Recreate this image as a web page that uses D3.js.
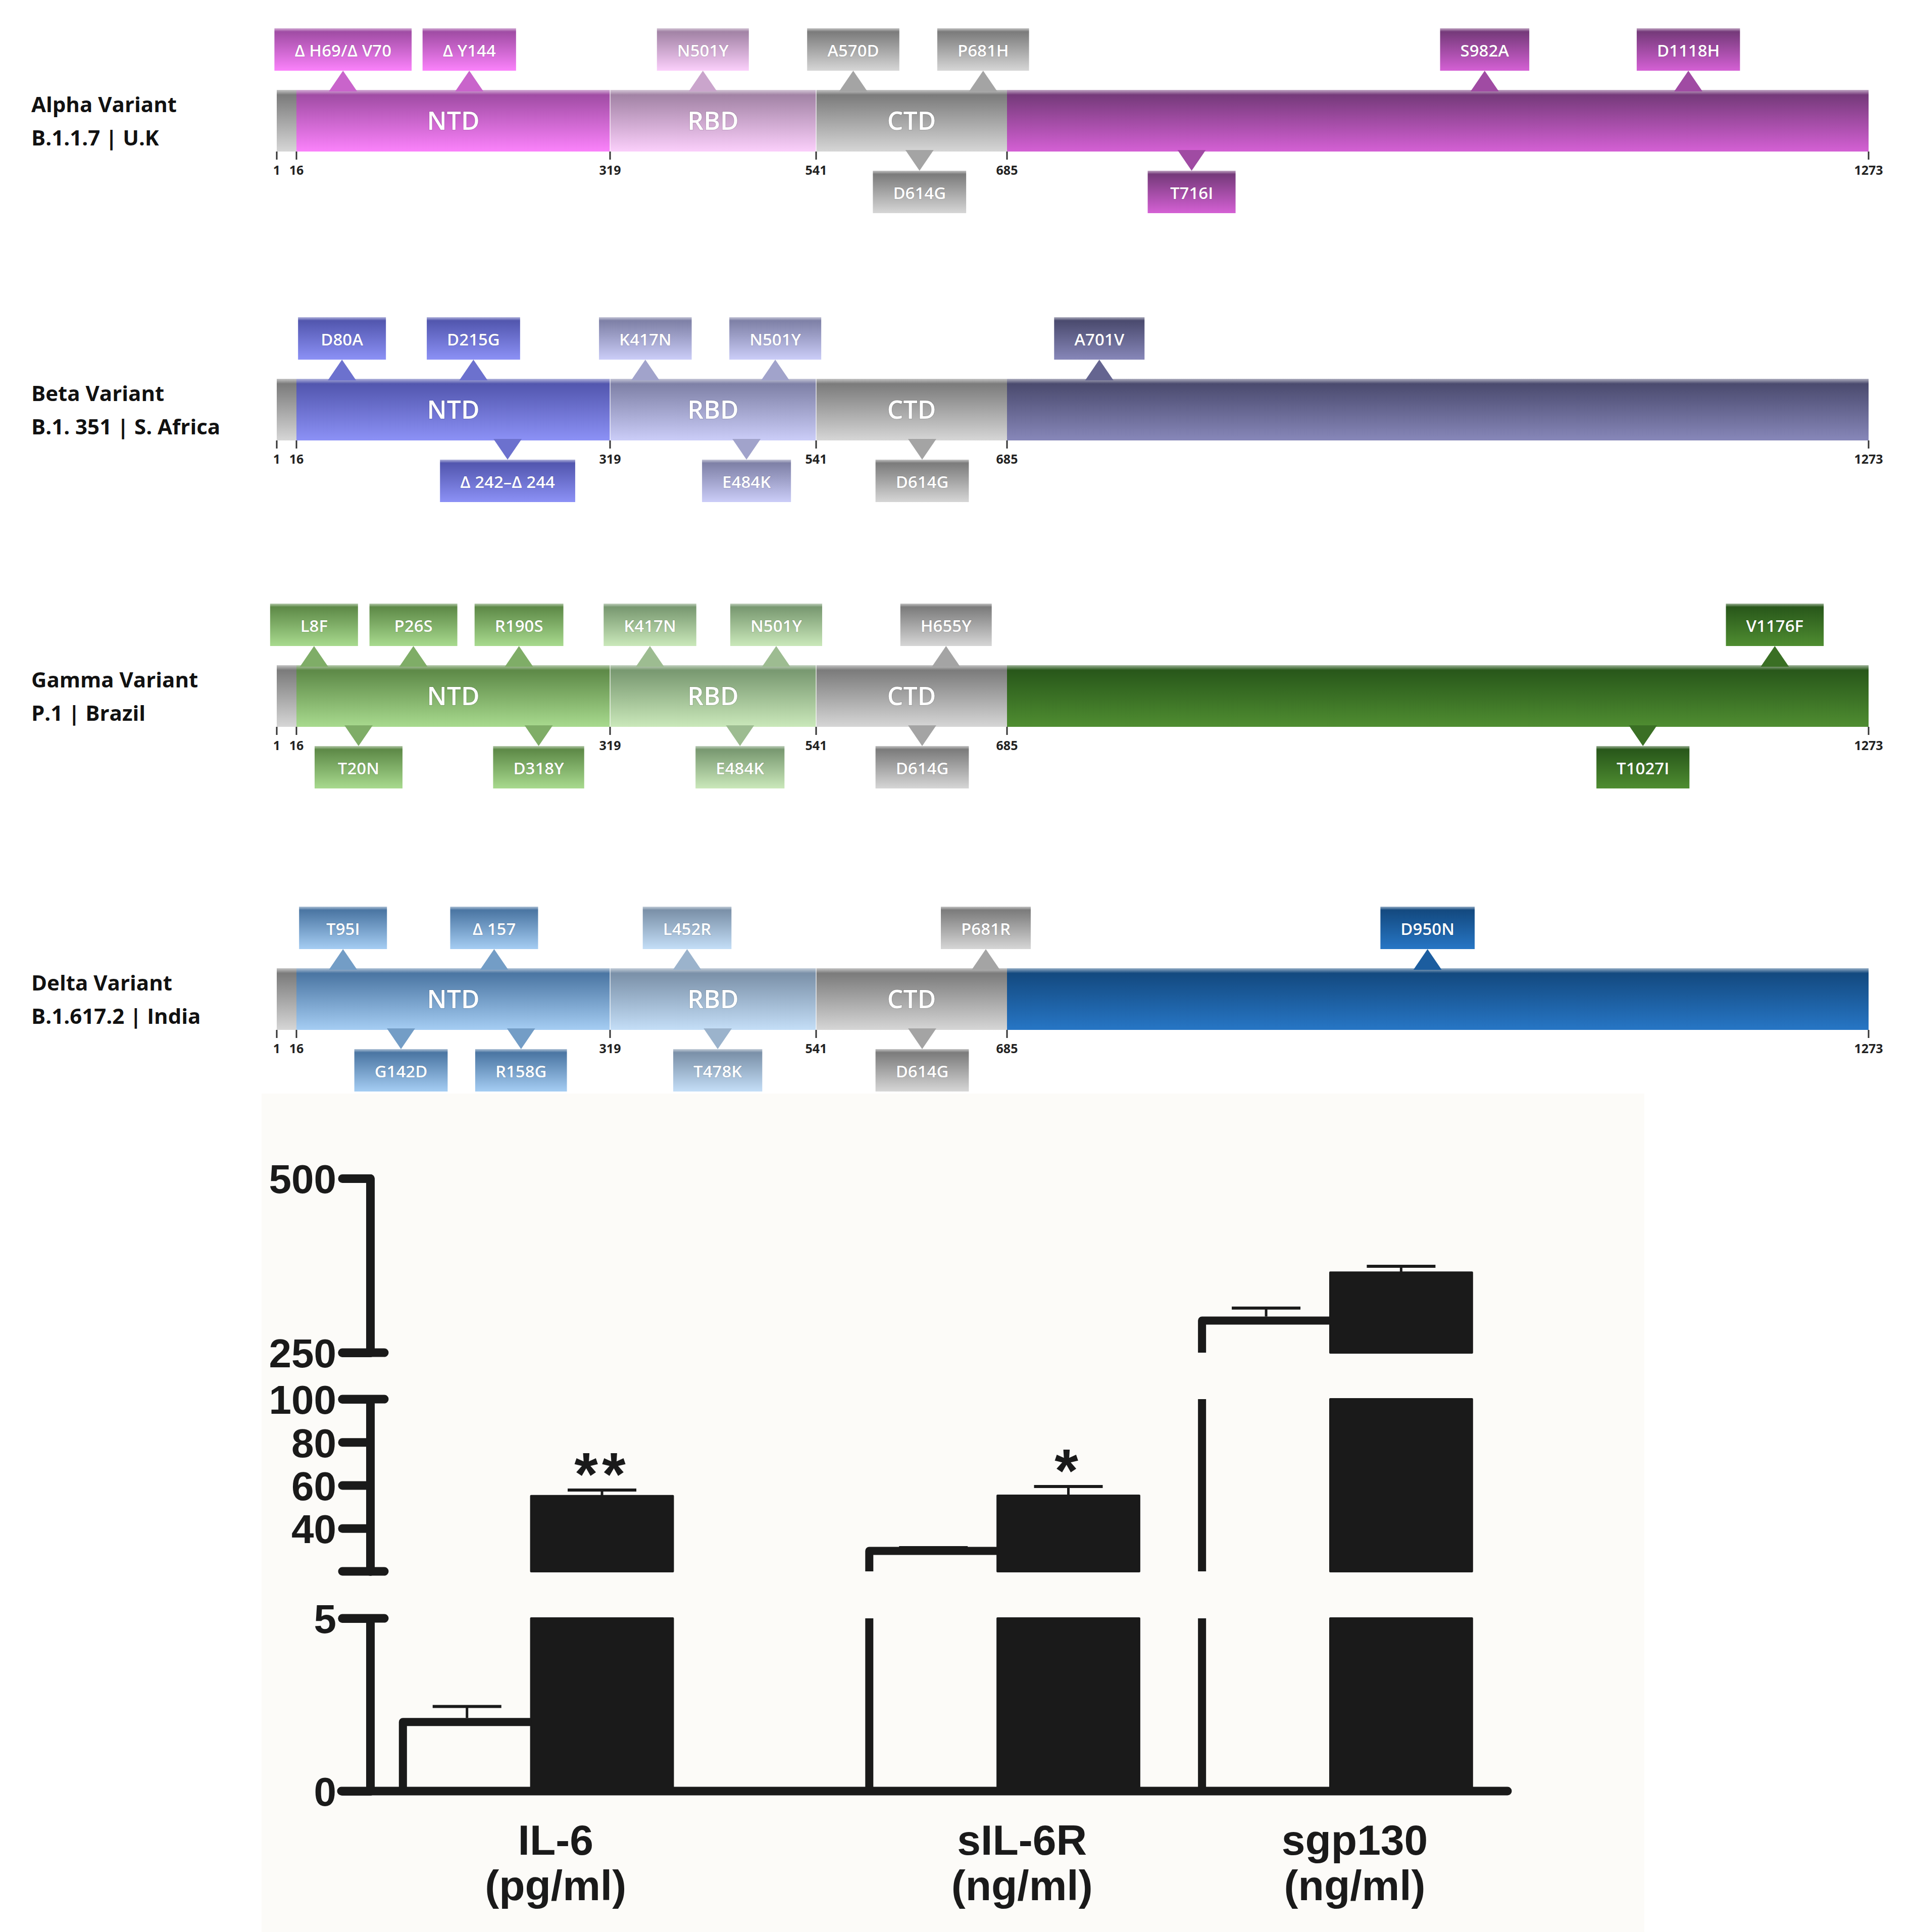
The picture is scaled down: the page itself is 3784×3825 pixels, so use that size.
<!DOCTYPE html>
<html><head><meta charset="utf-8">
<script src="https://cdn.jsdelivr.net/npm/d3@7"></script>
<style>html,body{margin:0;padding:0;background:#fff;} svg{display:block;}</style>
</head><body>
<svg id="chart" width="3784" height="3825"></svg>
<script>
// ================= DATA : spike protein variants =================
const variants = ["Alpha Variant", "Beta Variant", "Gamma Variant", "Delta Variant"];
const lineages = ["B.1.1.7 | U.K", "B.1. 351 | S. Africa", "P.1 | Brazil", "B.1.617.2 | India"];
const domainBounds = [1, 16, 319, 541, 685, 1273];
const domainNames = ["", "NTD", "RBD", "CTD", ""];
const boundLabels = ["1", "16", "319", "541", "685", "1273"];
// "at" = position along the schematic spike axis, as drawn
const alphaMut = [
  {label: "Δ H69/Δ V70", at: 61, side: "up"},
  {label: "Δ Y144", at: 183, side: "up"},
  {label: "N501Y", at: 419, side: "up"},
  {label: "A570D", at: 569, side: "up"},
  {label: "P681H", at: 667, side: "up"},
  {label: "S982A", at: 1011, side: "up"},
  {label: "D1118H", at: 1150, side: "up"},
  {label: "D614G", at: 619, side: "down"},
  {label: "T716I", at: 811, side: "down"}
];
const betaMut = [
  {label: "D80A", at: 60, side: "up"},
  {label: "D215G", at: 187, side: "up"},
  {label: "K417N", at: 357, side: "up"},
  {label: "N501Y", at: 497, side: "up"},
  {label: "A701V", at: 748, side: "up"},
  {label: "Δ 242–Δ 244", at: 220, side: "down"},
  {label: "E484K", at: 466, side: "down"},
  {label: "D614G", at: 621, side: "down"}
];
const gammaMut = [
  {label: "L8F", at: 33, side: "up"},
  {label: "P26S", at: 129, side: "up"},
  {label: "R190S", at: 231, side: "up"},
  {label: "K417N", at: 362, side: "up"},
  {label: "N501Y", at: 498, side: "up"},
  {label: "H655Y", at: 639, side: "up"},
  {label: "V1176F", at: 1209, side: "up"},
  {label: "T20N", at: 76, side: "down"},
  {label: "D318Y", at: 250, side: "down"},
  {label: "E484K", at: 459, side: "down"},
  {label: "D614G", at: 621, side: "down"},
  {label: "T1027I", at: 1119, side: "down"}
];
const deltaMut = [
  {label: "T95I", at: 61, side: "up"},
  {label: "Δ 157", at: 207, side: "up"},
  {label: "L452R", at: 402, side: "up"},
  {label: "P681R", at: 669, side: "up"},
  {label: "D950N", at: 972, side: "up"},
  {label: "G142D", at: 117, side: "down"},
  {label: "R158G", at: 233, side: "down"},
  {label: "T478K", at: 435, side: "down"},
  {label: "D614G", at: 621, side: "down"}
];
const mutations = [alphaMut, betaMut, gammaMut, deltaMut];

// ================= DATA : cytokine bar chart =================
const cytokines = ["IL-6", "sIL-6R", "sgp130"];
const cytokineUnits = ["(pg/ml)", "(ng/ml)", "(ng/ml)"];
const controlMean = [2.0, 29.5, 296];
const controlSEM = [0.45, 1.5, 18];
const patientMean = [55.0, 55.2, 365];
const patientSEM = [2.8, 4.2, 9];
const significance = ["**", "*", ""];
const groupAt = [1.18, 4.60, 7.04];   // x position of each pair (bar-width units)
const yTicksLow = [0, 5];
const yTicksMid = [40, 60, 80, 100];
const yTicksHigh = [250, 500];

// ================= STYLES =================
const GRAY = ["#7b7b7b", "#d6d6d6"];
const palettes = [
  {ntd: ["#a04ca4", "#fb82fb"], rbd: ["#a283a5", "#fbcffb"], s2: ["#753a7a", "#d460d4"]},
  {ntd: ["#5256ae", "#8c91f6"], rbd: ["#7e80a6", "#cbcdf8"], s2: ["#4a4a6e", "#8787b9"]},
  {ntd: ["#5d8947", "#a8da8e"], rbd: ["#789870", "#cae8ba"], s2: ["#28571a", "#4f8d31"]},
  {ntd: ["#4a75a2", "#a5cdf3"], rbd: ["#7a90a8", "#c4def7"], s2: ["#13497f", "#2776c5"]}
];
function domainColors(i, d) {
  const p = palettes[i];
  return [GRAY, p.ntd, p.rbd, GRAY, p.s2][d];
}

const svg = d3.select("#chart");
const defs = svg.append("defs");
svg.append("rect").attr("width", 3784).attr("height", 3825).attr("fill", "#ffffff");

function makeGrad(id, c) {
  const g = defs.append("linearGradient").attr("id", id)
    .attr("x1", 0).attr("y1", 0).attr("x2", 0).attr("y2", 1);
  g.append("stop").attr("offset", "0%").attr("stop-color", d3.interpolateRgb(c[0], "#ffffff")(0.55));
  g.append("stop").attr("offset", "8%").attr("stop-color", c[0]);
  g.append("stop").attr("offset", "100%").attr("stop-color", c[1]);
}

// ================= SPIKE SCHEMATICS =================
const pos = d3.scaleLinear().domain(domainBounds).range([548, 587, 1208, 1616, 1994, 3700]);
const rowTop = [178, 750, 1317, 1917];
const barH = 122, boxH = 84, gap = 38;
const domainIndex = at => Math.max(0, Math.min(4, d3.bisectRight(domainBounds, at) - 1));

variants.forEach((name, i) => {
  for (let d = 0; d < 5; d++) makeGrad(`g-${i}-${d}`, domainColors(i, d));
  const top = rowTop[i], bot = top + barH;
  const g = svg.append("g").attr("class", "row");

  // variant label
  g.append("text").attr("x", 62).attr("y", top + 44)
    .attr("font-family", "'Open Sans', sans-serif").attr("font-weight", 700)
    .attr("font-size", 42).attr("fill", "#111").text(name);
  g.append("text").attr("x", 62).attr("y", top + 110)
    .attr("font-family", "'Open Sans', sans-serif").attr("font-weight", 700)
    .attr("font-size", 42).attr("fill", "#111").text(lineages[i]);

  // domains
  g.selectAll("rect.dom").data(d3.range(5)).join("rect").attr("class", "dom")
    .attr("x", d => pos(domainBounds[d]))
    .attr("width", d => pos(domainBounds[d + 1]) - pos(domainBounds[d]))
    .attr("y", top).attr("height", barH)
    .attr("fill", d => `url(#g-${i}-${d})`);
  g.selectAll("line.sep").data([2, 3]).join("line").attr("class", "sep")
    .attr("x1", d => pos(domainBounds[d])).attr("x2", d => pos(domainBounds[d]))
    .attr("y1", top).attr("y2", bot).attr("stroke", "rgba(255,255,255,0.6)").attr("stroke-width", 2);

  g.selectAll("text.dom").data([1, 2, 3]).join("text").attr("class", "dom")
    .attr("x", d => (pos(domainBounds[d]) + pos(domainBounds[d + 1])) / 2)
    .attr("y", top + barH / 2).attr("dy", "0.36em")
    .attr("text-anchor", "middle")
    .attr("font-family", "'Open Sans', sans-serif").attr("font-weight", 600)
    .attr("font-size", 50).attr("fill", "#ffffff")
    .attr("stroke", "rgba(0,0,0,0.12)").attr("stroke-width", 2).attr("paint-order", "stroke")
    .text(d => domainNames[d]);

  // boundary ticks
  g.selectAll("line.tk").data(domainBounds).join("line").attr("class", "tk")
    .attr("x1", d => pos(d)).attr("x2", d => pos(d))
    .attr("y1", bot).attr("y2", bot + 16).attr("stroke", "#333").attr("stroke-width", 3);
  g.selectAll("text.tk").data(domainBounds).join("text").attr("class", "tk")
    .attr("x", d => pos(d)).attr("y", bot + 46).attr("text-anchor", "middle")
    .attr("font-family", "'Open Sans', sans-serif").attr("font-weight", 700)
    .attr("font-size", 25).attr("fill", "#222")
    .text((d, k) => boundLabels[k]);

  // mutations
  mutations[i].forEach(m => {
    const cx = pos(m.at);
    const di = domainIndex(m.at);
    const c = domainColors(i, di);
    const up = m.side === "up";
    const by0 = up ? top - gap - boxH : bot + gap;
    const mg = g.append("g").attr("class", "mut");
    mg.append("path")
      .attr("d", up
        ? `M${cx - 28},${top + 3}L${cx + 28},${top + 3}L${cx},${by0 + boxH}Z`
        : `M${cx - 28},${bot - 3}L${cx + 28},${bot - 3}L${cx},${by0}Z`)
      .attr("fill", d3.interpolateRgb(c[0], c[1])(0.45));
    const rect = mg.append("rect");
    const t = mg.append("text").attr("x", cx).attr("y", by0 + boxH / 2 + 2).attr("dy", "0.36em")
      .attr("text-anchor", "middle")
      .attr("font-family", "'Open Sans', sans-serif").attr("font-weight", 600)
      .attr("font-size", 33).attr("fill", "#ffffff")
      .attr("stroke", "rgba(0,0,0,0.15)").attr("stroke-width", 1.5).attr("paint-order", "stroke")
      .text(m.label);
    const w = Math.max(174, t.node().getComputedTextLength() + 80);
    rect.attr("x", cx - w / 2).attr("y", by0).attr("width", w).attr("height", boxH)
      .attr("fill", `url(#g-${i}-${di})`);
  });
});

// ================= CYTOKINE BAR CHART =================
svg.append("rect").attr("x", 518).attr("y", 2165).attr("width", 2738).attr("height", 1660).attr("fill", "#fcfbf8");

const INK = "#1a1a1a";
const FONT = "'Liberation Sans', Arial, Helvetica, sans-serif";
const axisX = 733;
const x = d3.scaleLinear().domain([0, 8.34]).range([axisX, 2985]);
const unit = x(1) - x(0);
const segments = [
  {y: d3.scaleLinear().domain([0, 5]).range([3546, 3204]), ticks: yTicksLow},
  {y: d3.scaleLinear().domain([20, 100]).range([3111, 2770]), ticks: yTicksMid},
  {y: d3.scaleLinear().domain([250, 500]).range([2678, 2333]), ticks: yTicksHigh}
];
const chart = svg.append("g");

function segFor(v) {
  return segments.find(s => v >= s.y.domain()[0] && v <= s.y.domain()[1]) || segments[segments.length - 1];
}

// bars
cytokines.forEach((name, i) => {
  const b = x(groupAt[i]);
  const wl = b - 0.94 * unit;          // white bar left edge
  const br = b + 1.04 * unit;          // black bar right edge
  segments.forEach(s => {
    const [d0, d1] = s.y.domain();
    // black (patients)
    const hiP = Math.min(patientMean[i], d1);
    if (hiP > d0) {
      chart.append("rect").attr("x", b).attr("width", br - b)
        .attr("y", s.y(hiP)).attr("height", s.y(d0) - s.y(hiP))
        .attr("fill", INK).attr("stroke", INK).attr("stroke-width", 4).attr("stroke-linejoin", "round");
    }
    // white (controls)
    const hiC = Math.min(controlMean[i], d1);
    if (hiC > d0) {
      const inSeg = controlMean[i] <= d1;
      const p = d3.path();
      p.moveTo(wl, s.y(d0));
      p.lineTo(wl, s.y(hiC));
      if (inSeg) p.lineTo(b, s.y(hiC));
      chart.append("path").attr("d", p.toString()).attr("fill", "none")
        .attr("stroke", INK).attr("stroke-width", 16).attr("stroke-linejoin", "round");
    }
  });
  // error bars
  const eb = (mean, sem, cxp, yOff) => {
    const s = segFor(mean);
    const y0 = s.y(mean), y1 = s.y(mean + sem);
    chart.append("line").attr("x1", cxp).attr("x2", cxp).attr("y1", y0 - yOff).attr("y2", y1)
      .attr("stroke", INK).attr("stroke-width", 5);
    chart.append("line").attr("x1", cxp - 68).attr("x2", cxp + 68).attr("y1", y1).attr("y2", y1)
      .attr("stroke", INK).attr("stroke-width", 6);
    return y1;
  };
  eb(controlMean[i], controlSEM[i], (wl + b) / 2, 8);
  const yTop = eb(patientMean[i], patientSEM[i], (b + br) / 2, 0);
  if (significance[i]) {
    chart.append("text").attr("x", (b + br) / 2).attr("y", yTop + 10)
      .attr("text-anchor", "middle").attr("font-family", FONT).attr("font-weight", 700)
      .attr("font-size", 120).attr("letter-spacing", 8).attr("fill", INK).text(significance[i]);
  }
  // category label
  const lx = b + 0.18 * unit;
  chart.append("text").attr("x", lx).attr("y", 3672).attr("text-anchor", "middle")
    .attr("font-family", FONT).attr("font-weight", 700).attr("font-size", 84).attr("fill", INK).text(name);
  chart.append("text").attr("x", lx).attr("y", 3762).attr("text-anchor", "middle")
    .attr("font-family", FONT).attr("font-weight", 700).attr("font-size", 84).attr("fill", INK).text(cytokineUnits[i]);
});

// y axis segments
segments.forEach((s, k) => {
  const ax = chart.append("g").attr("transform", `translate(${axisX},0)`)
    .call(d3.axisLeft(s.y).tickValues(s.ticks).tickSize(55).tickSizeOuter(0).tickPadding(12).tickFormat(d3.format("d")));
  ax.select(".domain").attr("stroke", INK).attr("stroke-width", 17).attr("stroke-linecap", "round");
  ax.selectAll(".tick line").attr("stroke", INK).attr("stroke-width", 17).attr("stroke-linecap", "round");
  ax.selectAll(".tick text").attr("font-family", FONT).attr("font-weight", 700)
    .attr("font-size", 80).attr("fill", INK).attr("dy", "0.36em");
  // break caps
  const [d0, d1] = s.y.domain();
  const caps = [];
  if (k > 0) caps.push(d0);
  if (k < segments.length - 1) caps.push(d1);
  caps.forEach(v => {
    chart.append("line").attr("x1", axisX - 55).attr("x2", axisX + 28)
      .attr("y1", s.y(v)).attr("y2", s.y(v))
      .attr("stroke", INK).attr("stroke-width", 17).attr("stroke-linecap", "round");
  });
});

// x axis baseline
chart.append("line").attr("x1", axisX - 57).attr("x2", x.range()[1])
  .attr("y1", segments[0].y(0)).attr("y2", segments[0].y(0))
  .attr("stroke", INK).attr("stroke-width", 17).attr("stroke-linecap", "round");
</script>
</body></html>
